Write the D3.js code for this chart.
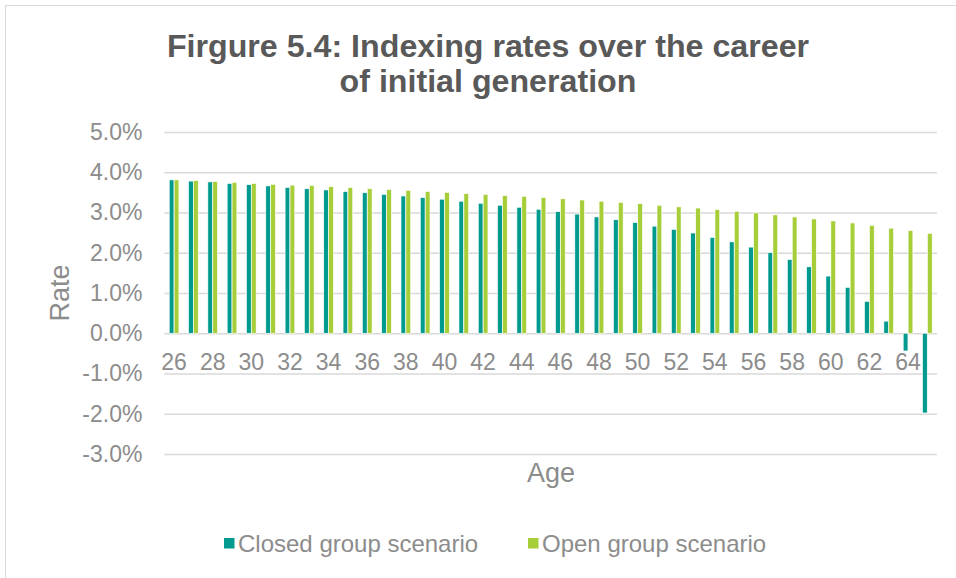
<!DOCTYPE html>
<html>
<head>
<meta charset="utf-8">
<script src="https://cdn.jsdelivr.net/npm/d3@7"></script>
<style>
  html, body { margin: 0; padding: 0; background: #fff; }
  svg { display: block; font-family: "Liberation Sans", Arial, sans-serif; }
</style>
</head>
<body>
<svg id="chart" width="956" height="578"></svg>
<script>
// ---- data ----
const ages = d3.range(26, 66); // 26 .. 65
const closedGroup = [3.81, 3.78, 3.76, 3.72, 3.69, 3.66, 3.62, 3.59, 3.56, 3.52,
                     3.49, 3.45, 3.41, 3.37, 3.33, 3.28, 3.23, 3.18, 3.13, 3.08,
                     3.02, 2.96, 2.89, 2.82, 2.75, 2.66, 2.58, 2.49, 2.38, 2.27,
                     2.14, 2.00, 1.83, 1.65, 1.42, 1.14, 0.79, 0.30, -0.44, -1.98];
const openGroup   = [3.81, 3.79, 3.77, 3.75, 3.72, 3.70, 3.68, 3.67, 3.64, 3.62,
                     3.59, 3.57, 3.55, 3.52, 3.50, 3.47, 3.45, 3.42, 3.40, 3.37,
                     3.34, 3.31, 3.28, 3.25, 3.22, 3.18, 3.14, 3.11, 3.07, 3.03,
                     2.99, 2.94, 2.89, 2.84, 2.79, 2.74, 2.68, 2.61, 2.55, 2.48];
const yTicks = [-3, -2, -1, 0, 1, 2, 3, 4, 5];
const xTickLabels = d3.range(26, 65, 2);
const seriesNames = ["Closed group scenario", "Open group scenario"];
const seriesColors = ["#009a8e", "#a6ce39"];
const titleLines = ["Firgure 5.4: Indexing rates over the career", "of initial generation"];

// ---- layout ----
const svg = d3.select("#chart");
const plot = { left: 164.4, right: 937, top: 132, bottom: 454 };

svg.append("rect").attr("x", 5.5).attr("y", 5.5).attr("width", 960).attr("height", 600)
  .attr("fill", "#fff").attr("stroke", "#d9d9d9").attr("stroke-width", 1);

const x0 = d3.scaleBand().domain(ages).range([plot.left, plot.right])
  .paddingInner(0.5).paddingOuter(0.25);
const x1 = d3.scaleBand().domain(seriesNames).range([0, x0.bandwidth()]).paddingInner(0.04);
const y = d3.scaleLinear().domain([-3, 5]).range([plot.bottom, plot.top]);

const pct = d => d.toFixed(1) + "%";

// gridlines + y labels
const yAxis = d3.axisLeft(y).tickValues(yTicks)
  .tickFormat(pct)
  .tickSize(-(plot.right - plot.left)).tickPadding(22);
const gy = svg.append("g").attr("transform", `translate(${plot.left},0)`).call(yAxis);
gy.select(".domain").remove();
gy.selectAll(".tick line").attr("stroke", "#d9d9d9").attr("stroke-width", 1.3);
gy.selectAll(".tick text").attr("fill", "#8c8c8c").style("font-size", "23px")
  .style("font-family", "'Liberation Sans', Arial, sans-serif");

// bars
const data = ages.map((a, i) => ({ age: a, values: [closedGroup[i], openGroup[i]] }));
const groups = svg.append("g").selectAll("g").data(data).join("g")
  .attr("transform", d => `translate(${x0(d.age)},0)`);
groups.selectAll("rect").data(d => d.values.map((v, k) => ({ v, k })))
  .join("rect")
  .attr("x", d => x1(seriesNames[d.k]))
  .attr("width", x1.bandwidth())
  .attr("y", d => y(Math.max(0, d.v)))
  .attr("height", d => Math.abs(y(d.v) - y(0)))
  .attr("fill", d => seriesColors[d.k])
  .attr("stroke", "#ffffff").attr("stroke-width", 0.6);

// x axis labels
const xAxis = d3.axisBottom(x0).tickValues(xTickLabels).tickSize(0).tickPadding(20);
const gx = svg.append("g").attr("transform", `translate(0,${y(0)})`).call(xAxis);
gx.select(".domain").remove();
gx.selectAll(".tick text").attr("fill", "#8c8c8c").style("font-size", "23px")
  .style("font-family", "'Liberation Sans', Arial, sans-serif");

// axis titles
svg.append("text").attr("x", 551).attr("y", 482).attr("text-anchor", "middle")
  .attr("fill", "#8c8c8c").style("font-size", "27px").text("Age");
svg.append("text").attr("transform", "translate(69,293) rotate(-90)").attr("text-anchor", "middle")
  .attr("fill", "#8c8c8c").style("font-size", "27px").text("Rate");

// title
svg.append("text").attr("text-anchor", "middle").attr("fill", "#595959")
  .style("font-size", "32.2px").style("font-weight", "bold")
  .selectAll("tspan").data(titleLines).join("tspan")
  .attr("x", 488).attr("y", (d, i) => 57 + i * 35).text(d => d);

// legend
const legendX = [224, 528];
const lg = svg.append("g").selectAll("g").data(seriesNames).join("g")
  .attr("transform", (d, i) => `translate(${legendX[i]},538)`);
lg.append("rect").attr("width", 10.5).attr("height", 10.5).attr("fill", (d, i) => seriesColors[i]);
lg.append("text").attr("x", 14).attr("y", 13.5).attr("fill", "#8c8c8c")
  .style("font-size", "24px").text(d => d);
</script>
</body>
</html>
